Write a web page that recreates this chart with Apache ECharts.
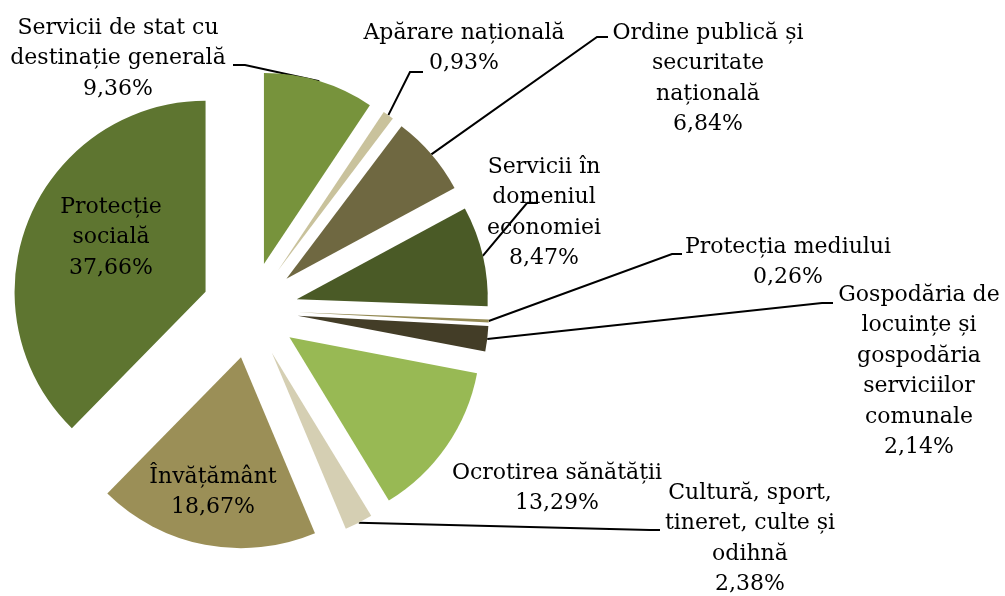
<!DOCTYPE html>
<html>
<head>
<meta charset="utf-8">
<script src="https://cdn.jsdelivr.net/npm/echarts@6/dist/echarts.min.js"></script>
<style>
  html, body { margin: 0; padding: 0; background: #fff; }
  #chart { width: 1005px; height: 596px; }
</style>
</head>
<body>
<div id="chart"></div>
<script>
// categories, clockwise from 12 o'clock
const NAMES = [
  'Servicii de stat cu destinație generală',
  'Apărare națională',
  'Ordine publică și securitate națională',
  'Servicii în domeniul economiei',
  'Protecția mediului',
  'Gospodăria de locuințe și gospodăria serviciilor comunale',
  'Ocrotirea sănătății',
  'Cultură, sport, tineret, culte și odihnă',
  'Învățământ',
  'Protecție socială'
]
// label text broken into lines as in the original
const LABEL_LINES = [
  ['Servicii de stat cu', 'destinație generală'],
  ['Apărare națională'],
  ['Ordine publică și', 'securitate', 'națională'],
  ['Servicii în', 'domeniul', 'economiei'],
  ['Protecția mediului'],
  ['Gospodăria de', 'locuințe și', 'gospodăria', 'serviciilor', 'comunale'],
  ['Ocrotirea sănătății'],
  ['Cultură, sport,', 'tineret, culte și', 'odihnă'],
  ['Învățământ'],
  ['Protecție', 'socială']
]
const SHARES = [9.36, 0.93, 6.84, 8.47, 0.26, 2.14, 13.29, 2.38, 18.67, 37.66]

const COLORS = [
  '#77933c', '#c9c29c', '#6f6841', '#4a5a26', '#948a54',
  '#433d27', '#98b954', '#d5cfb3', '#9b8f57', '#5e7530'
]

// geometry of the pie
const CX = 250
const CY = 310
const R = 191
const EXPLODE = 48

// label block: centre x, top y; leader: end point and elbow offset
const LABEL_POS = [
  { x: 118, y: 13,  lead: [233, 65, 12] },
  { x: 464, y: 18,  lead: [423, 72, -13] },
  { x: 708, y: 18,  lead: [608, 37, -11] },
  { x: 544, y: 152, lead: [538, 203, -11] },
  { x: 788, y: 232, lead: [682, 254, -10] },
  { x: 919, y: 280, lead: [833, 303, -11] },
  { x: 557, y: 458, lead: null },
  { x: 750, y: 478, lead: [660, 530, -10] },
  { x: 213, y: 462, lead: null },
  { x: 111, y: 192, lead: null }
]

const total = SHARES.reduce((a, b) => a + b, 0)
const midAngles = []
let acc = 0
SHARES.forEach(v => {
  midAngles.push((acc + v / 2) / total * Math.PI * 2)
  acc += v
})

function pct(v) {
  return v.toFixed(2).replace('.', ',') + '%'
}

const labelStyle = {
  show: true,
  position: 'outside',
  color: '#000',
  fontFamily: '"DejaVu Serif", serif',
  fontSize: 22,
  lineHeight: 30.5,
  formatter: p => LABEL_LINES[p.dataIndex].join('\n') + '\n' + pct(p.value)
}

function layoutLabel(params) {
  const i = params.dataIndex
  const pos = LABEL_POS[i]
  const out = { x: pos.x, y: pos.y, align: 'center', verticalAlign: 'top' }
  if (pos.lead) {
    const a = midAngles[i]
    const d = R + EXPLODE
    const start = [CX + d * Math.sin(a), CY - d * Math.cos(a)]
    const [ex, ey, dx] = pos.lead
    out.labelLinePoints = [start, [ex + dx, ey], [ex, ey]]
  }
  return out
}

// one pie per slice so every slice is pulled out along its own mid angle
const series = SHARES.map((_, k) => ({
  type: 'pie',
  center: [CX + EXPLODE * Math.sin(midAngles[k]), CY - EXPLODE * Math.cos(midAngles[k])],
  radius: R,
  startAngle: 90,
  clockwise: true,
  silent: true,
  avoidLabelOverlap: false,
  emphasis: { disabled: true },
  label: labelStyle,
  labelLine: { show: true, lineStyle: { color: '#000', width: 2 } },
  labelLayout: layoutLabel,
  data: SHARES.map((v, i) => ({
    name: NAMES[i],
    value: v,
    itemStyle: { color: i === k ? COLORS[i] : 'rgba(0,0,0,0)' },
    label: { show: i === k },
    labelLine: { show: i === k && LABEL_POS[i].lead !== null }
  }))
}))

const chart = echarts.init(document.getElementById('chart'), null, { renderer: 'canvas' })

chart.setOption({
  animation: false,
  backgroundColor: '#fff',
  series
})
</script>
</body>
</html>
